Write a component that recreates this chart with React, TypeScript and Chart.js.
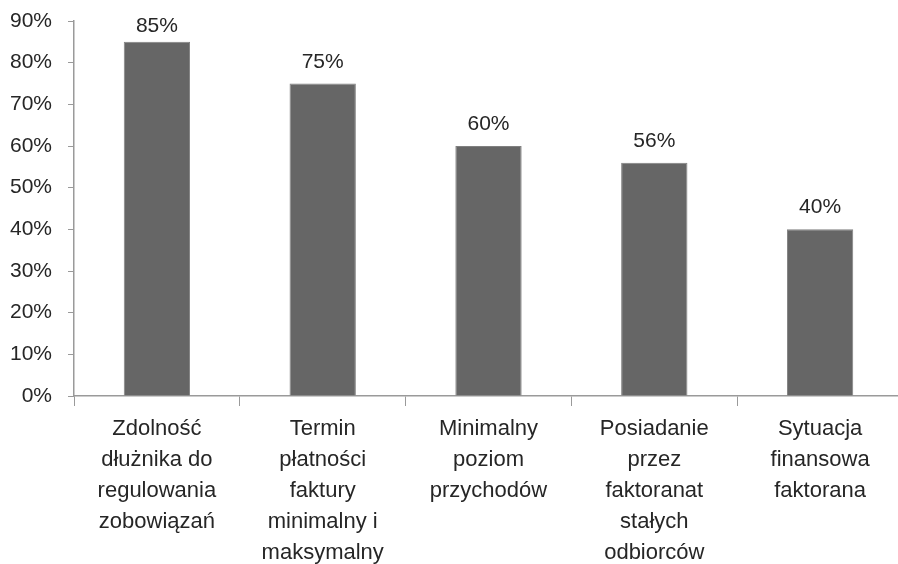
import React, { useEffect, useRef } from "react";
import { Chart, registerables } from "chart.js";

Chart.register(...registerables);

const categories: string[][] = [
  ["Zdolność", "dłużnika do", "regulowania", "zobowiązań"],
  ["Termin", "płatności", "faktury", "minimalny i", "maksymalny"],
  ["Minimalny", "poziom", "przychodów"],
  ["Posiadanie", "przez", "faktoranat", "stałych", "odbiorców"],
  ["Sytuacja", "finansowa", "faktorana"],
];
const values: number[] = [85, 75, 60, 56, 40];

const FONT = "'Liberation Sans', Arial, sans-serif";
const TEXT = "#262626";
const AXIS = "#9a9a9a";

// Draws the percentage above each bar
const valueLabels = {
  id: "valueLabels",
  afterDatasetsDraw(chart: any) {
    const ctx = chart.ctx;
    const meta = chart.getDatasetMeta(0);
    ctx.save();
    ctx.font = `21px ${FONT}`;
    ctx.fillStyle = TEXT;
    ctx.textAlign = "center";
    ctx.textBaseline = "alphabetic";
    meta.data.forEach((bar: any, i: number) => {
      const y = Math.max(bar.y - 16, 32);
      ctx.fillText(`${values[i]}%`, bar.x, y);
    });
    ctx.restore();
  },
};

export default function App() {
  const ref = useRef<HTMLCanvasElement>(null);

  useEffect(() => {
    if (!ref.current) return;
    const chart = new Chart(ref.current, {
      type: "bar",
      data: {
        labels: categories,
        datasets: [
          {
            data: values,
            backgroundColor: "#666666",
            borderColor: "#808080",
            borderWidth: 1,
            categoryPercentage: 1,
            barPercentage: 0.4,
          },
        ],
      },
      options: {
        responsive: false,
        animation: false,
        layout: { autoPadding: false, padding: { top: 21, left: 0, right: 0, bottom: 0 } },
        plugins: { legend: { display: false }, tooltip: { enabled: false } },
        scales: {
          x: {
            afterFit: (s: any) => {
              s.height = 168;
              s.paddingLeft = 0;
              s.paddingRight = 0;
            },
            grid: { display: true, drawOnChartArea: false, offset: true, tickLength: 10, color: AXIS },
            border: { color: AXIS, width: 1.5 },
            ticks: {
              color: TEXT,
              font: { family: FONT, size: 22, lineHeight: 1.41 },
              padding: 7,
              maxRotation: 0,
              autoSkip: false,
            },
          },
          y: {
            min: 0,
            max: 90,
            afterFit: (s: any) => {
              s.width = 74;
              s.paddingTop = 0;
              s.paddingBottom = 0;
            },
            grid: { display: true, drawOnChartArea: false, tickLength: 6, color: AXIS },
            border: { color: AXIS, width: 1.5 },
            ticks: {
              stepSize: 10,
              color: TEXT,
              font: { family: FONT, size: 21 },
              padding: 16,
              callback: (v: any) => `${v}%`,
            },
          },
        },
      },
      plugins: [valueLabels],
    });
    return () => chart.destroy();
  }, []);

  return (
    <div
      style={{
        position: "fixed",
        left: 0,
        top: 0,
        width: 898,
        height: 564,
        overflow: "hidden",
        background: "#fff",
      }}
    >
      <canvas ref={ref} width={903} height={564} />
    </div>
  );
}
